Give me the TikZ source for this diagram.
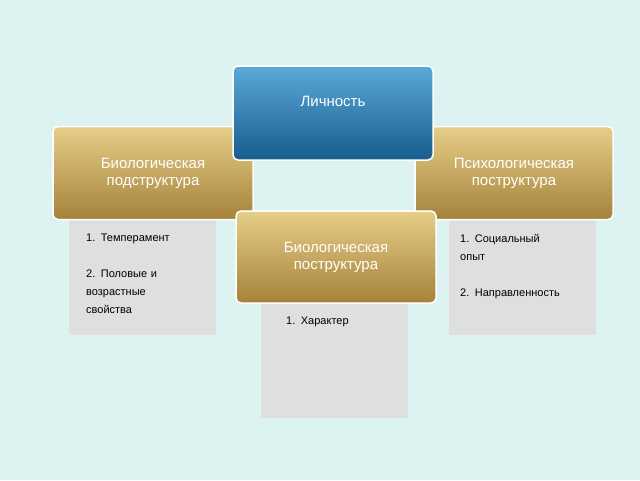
\documentclass[tikz,border=0pt]{standalone}
\usepackage{fontspec}
\setmainfont{Liberation Sans}
\begin{document}
\begin{tikzpicture}[x=1pt,y=-1pt,
  gold/.style={rounded corners=5pt,top color=gold1,bottom color=gold2,draw=white,line width=1.5pt,text=white,font=\fontsize{15}{17}\selectfont,align=center},
  blue/.style={rounded corners=5pt,top color=blue1,bottom color=blue2,draw=white,line width=1.5pt,text=white,font=\fontsize{15}{17}\selectfont,align=center},
  grey/.style={text=black,font=\fontsize{11}{18}\selectfont,align=left,inner sep=0pt}]
\definecolor{bg}{HTML}{DDF3F2}
\definecolor{gold1}{HTML}{E6CE88}
\definecolor{gold2}{HTML}{A5823A}
\definecolor{blue1}{HTML}{5AA9D9}
\definecolor{blue2}{HTML}{175C8D}
\fill[bg] (0,0) rectangle (640,480);
\useasboundingbox (0,0) rectangle (640,480);
\fill[gray!25] (69,220) rectangle (216,335);
\fill[gray!25] (261,303) rectangle (408,418);
\fill[gray!25] (449,220) rectangle (596,335);
\node[grey,anchor=north west,text width=130pt] (lt) at (86,234) {1. Темперамент\\[18pt]2. Половые и\\возрастные\\свойства};
\node[grey,anchor=north west,text width=120pt] (mt) at (286,317) {1. Характер};
\node[grey,anchor=north west,text width=140pt] (rt) at (460,234) {1. Социальный\\опыт\\[18pt]2. Направленность};
\node[gold,minimum width=200pt,minimum height=93pt] (bio) at (153,173) {Биологическая\\подструктура};
\node[gold,minimum width=198pt,minimum height=93pt] (psy) at (514,173) {Психологическая\\поструктура};
\node[blue,minimum width=200pt,minimum height=94pt] (lich) at (333,113) {Личность\\[6pt]};
\node[gold,minimum width=200pt,minimum height=92pt] (mid) at (336,257) {Биологическая\\поструктура};
\end{tikzpicture}
\end{document}
